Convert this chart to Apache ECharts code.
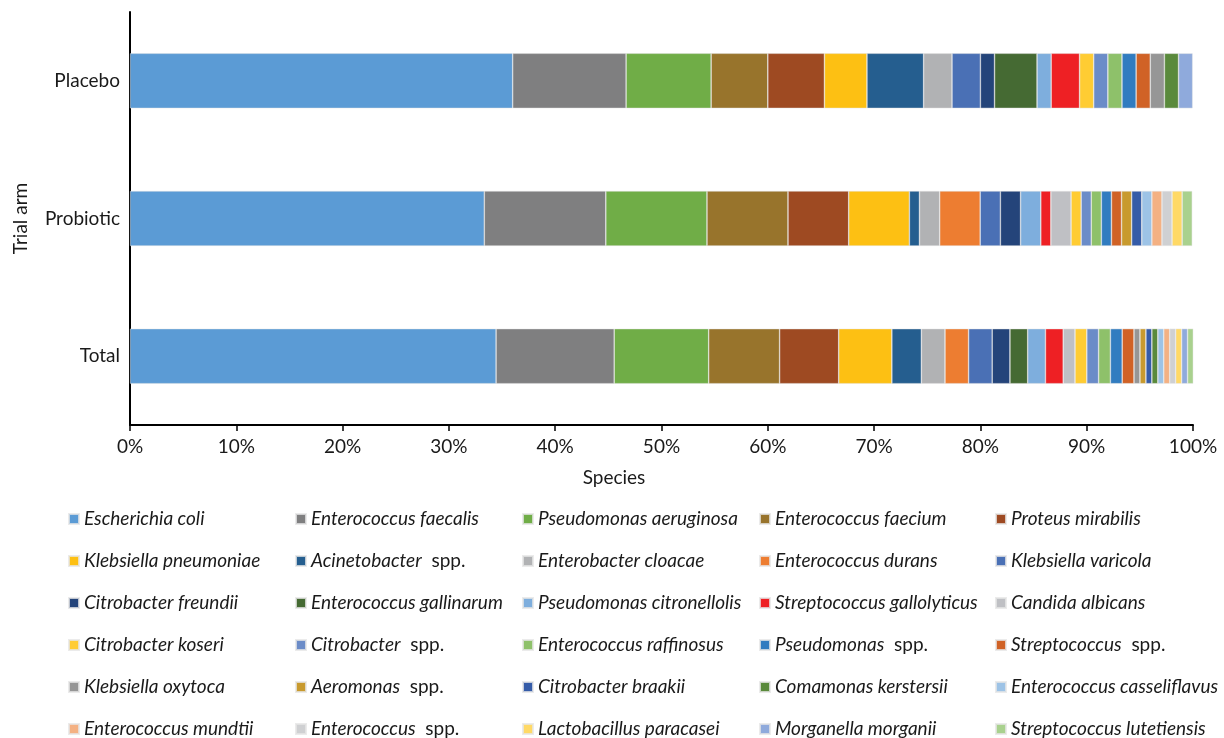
<!DOCTYPE html>
<html>
<head>
<meta charset="utf-8">
<title>Species by trial arm</title>
<script src="https://cdn.jsdelivr.net/npm/echarts@6/dist/echarts.min.js"></script>
<style>
	html, body { margin: 0; padding: 0; background: #fff; }
	#main { width: 1224px; height: 738px; }
</style>
</head>
<body>
<div id="main"></div>
<script>
// categories, bottom to top
var arms = [ 'Total', 'Probiotic', 'Placebo' ];

var species = [ 'Escherichia coli', 'Enterococcus faecalis', 'Pseudomonas aeruginosa',
		'Enterococcus faecium', 'Proteus mirabilis', 'Klebsiella pneumoniae',
		'Acinetobacter spp.', 'Enterobacter cloacae', 'Enterococcus durans',
		'Klebsiella varicola', 'Citrobacter freundii', 'Enterococcus gallinarum',
		'Pseudomonas citronellolis', 'Streptococcus gallolyticus', 'Candida albicans',
		'Citrobacter koseri', 'Citrobacter spp.', 'Enterococcus raffinosus',
		'Pseudomonas spp.', 'Streptococcus spp.', 'Klebsiella oxytoca',
		'Aeromonas spp.', 'Citrobacter braakii', 'Comamonas kerstersii',
		'Enterococcus casseliflavus', 'Enterococcus mundtii', 'Enterococcus spp.',
		'Lactobacillus paracasei', 'Morganella morganii', 'Streptococcus lutetiensis' ];

var colors = [ '#5b9bd5', '#7f7f80', '#70ad47', '#98742c', '#9e4a22', '#fdc013',
		'#255e8f', '#b1b2b4', '#ed7d31', '#4a70b5', '#24447a', '#456a33',
		'#7eaedd', '#ee2024', '#bfc0c4', '#ffcc33', '#6b8cc8', '#8ec16a',
		'#317cc0', '#d06226', '#969696', '#c89a2e', '#355ca8', '#5a8a3c',
		'#9dc3e6', '#f4b183', '#cfd0d2', '#ffd966', '#8faadc', '#a9d18e' ];

// percent of isolates, same order as species
var totalPct = [ 34.44, 11.11, 8.89, 6.67, 5.56, 5.00, 2.78, 2.22, 2.22, 2.22,
		1.67, 1.67, 1.67, 1.67, 1.11, 1.11, 1.11, 1.11, 1.11, 1.11,
		0.56, 0.56, 0.56, 0.56, 0.56, 0.56, 0.56, 0.56, 0.56, 0.56 ];
var probioticPct = [ 33.33, 11.43, 9.52, 7.62, 5.71, 5.71, 0.95, 1.90, 3.81, 1.90,
		1.90, 0, 1.90, 0.95, 1.90, 0.95, 0.95, 0.95, 0.95, 0.95,
		0, 0.95, 0.95, 0, 0.95, 0.95, 0.95, 0.95, 0, 0.95 ];
var placeboPct = [ 36.00, 10.67, 8.00, 5.33, 5.33, 4.00, 5.33, 2.67, 0, 2.67,
		1.33, 4.00, 1.33, 2.67, 0, 1.33, 1.33, 1.33, 1.33, 1.33,
		1.33, 0, 0, 1.33, 0, 0, 0, 0, 1.33, 0 ];

var xTicks = [ 0, 10, 20, 30, 40, 50, 60, 70, 80, 90, 100 ];

var fontName = 'Lato, "Noto Sans", sans-serif';
var textColor = '#1a1a1a';
var fs = 19;

(function() {
	var myChart = echarts.init(document.getElementById('main'));

	var series = [];
	for (var i = 0; i < species.length; i++) {
		var vals = [ totalPct[i], probioticPct[i], placeboPct[i] ];
		series.push({
			name : species[i],
			type : 'bar',
			stack : 'all',
			barWidth : '40%',
			itemStyle : {
				color : colors[i],
				borderColor : 'rgba(230,230,230,0.8)',
				borderWidth : 0.6
			},
			emphasis : { disabled : true },
			data : vals.map(function(v) {
				return v > 0 ? v : '-';
			})
		});
	}

	// legend: 5 columns, filled row by row
	var colLeft = [ 68, 295, 522, 759, 995 ];
	var legends = [];
	for (var c = 0; c < 5; c++) {
		var names = [];
		for (var k = c; k < species.length; k += 5) {
			names.push(species[k]);
		}
		legends.push({
			orient : 'vertical',
			left : colLeft[c],
			top : 508,
			height : 300, // keep all 6 rows in one column
			padding : 0,
			itemGap : 20,
			itemWidth : 10,
			itemHeight : 10,
			icon : 'rect',
			selectedMode : false,
			data : names,
			formatter : function(name) {
				if (name.indexOf(' spp.') > 0) {
					return '{i|' + name.replace(' spp.', '') + '}{n|  spp.}';
				}
				return '{i|' + name + '}';
			},
			textStyle : {
				fontFamily : fontName,
				fontSize : fs,
				color : textColor,
				lineHeight : 22,
				rich : {
					i : {
						fontFamily : fontName,
						fontSize : fs,
						fontStyle : 'italic',
						color : textColor,
						lineHeight : 22
					},
					n : {
						fontFamily : fontName,
						fontSize : fs,
						fontStyle : 'normal',
						color : textColor,
						lineHeight : 22
					}
				}
			}
		});
	}

	myChart.setOption({
		animation : false,
		textStyle : { fontFamily : fontName },
		grid : {
			left : 130,
			right : 31,
			top : 12,
			bottom : 313
		},
		legend : legends,
		xAxis : {
			type : 'value',
			min : xTicks[0],
			max : xTicks[xTicks.length - 1],
			interval : xTicks[1] - xTicks[0],
			name : 'Species',
			nameLocation : 'middle',
			nameGap : 43,
			nameTextStyle : {
				fontSize : fs,
				color : textColor,
				padding : [ 0, 95, 0, 0 ]
			},
			axisLine : {
				show : true,
				lineStyle : { color : '#000', width : 2 }
			},
			axisTick : {
				show : true,
				length : 6,
				lineStyle : { color : '#000', width : 1.5 }
			},
			axisLabel : {
				margin : 12,
				fontSize : fs,
				color : textColor,
				formatter : '{value}%'
			},
			splitLine : { show : false }
		},
		yAxis : {
			type : 'category',
			data : arms,
			name : 'Trial arm',
			nameLocation : 'middle',
			nameGap : 100,
			nameTextStyle : {
				fontSize : fs,
				color : textColor
			},
			axisLine : {
				lineStyle : { color : '#000', width : 2 }
			},
			axisTick : {
				alignWithLabel : true,
				length : 5,
				lineStyle : { color : '#000', width : 1.5 }
			},
			axisLabel : {
				margin : 10,
				fontSize : fs,
				color : textColor
			}
		},
		series : series
	});
})();
</script>
</body>
</html>
